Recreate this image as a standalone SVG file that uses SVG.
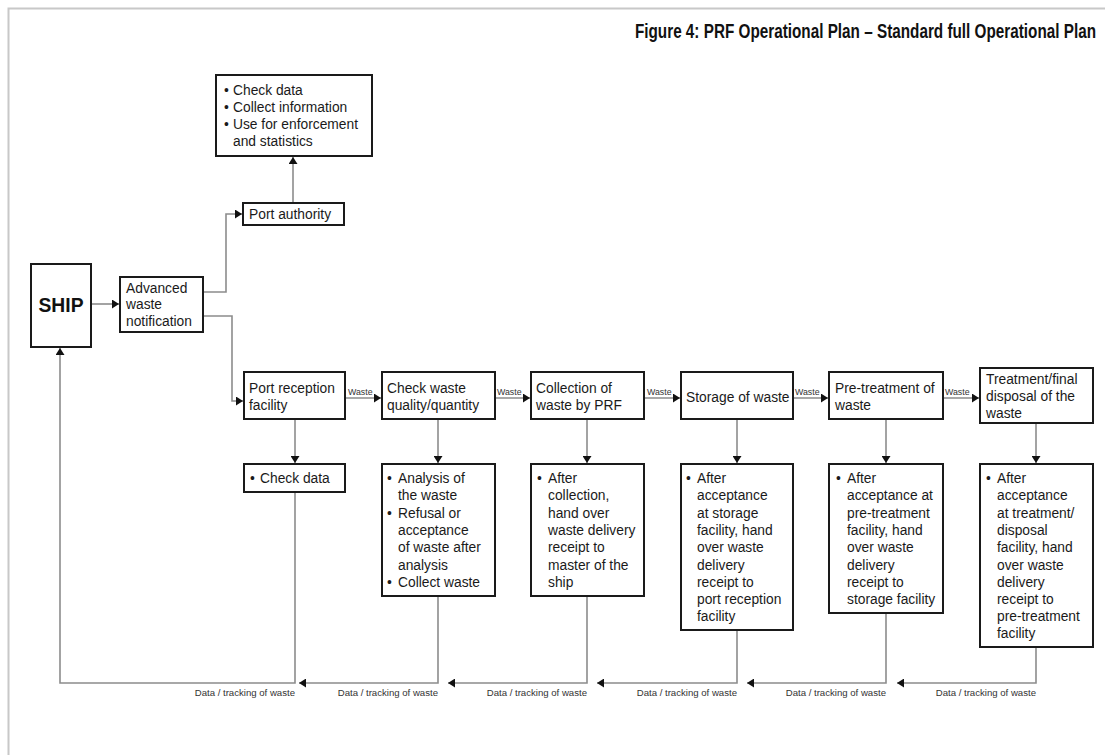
<svg xmlns="http://www.w3.org/2000/svg" width="1105" height="755" viewBox="0 0 1105 755">
  <style>
    .box { fill: #ffffff; stroke: #1a1a1a; stroke-width: 2; }
    .conn { fill: none; stroke: #8c8c8c; stroke-width: 1.6; }
    .t { font-family: "Liberation Sans", Arial, sans-serif; font-size: 13.8px; fill: #1a1a1a; }
    .lbl { font-family: "Liberation Sans", Arial, sans-serif; font-size: 8.8px; fill: #333333; }
    .data { font-family: "Liberation Sans", Arial, sans-serif; font-size: 9.6px; fill: #333333; text-anchor: end; }
    .title { font-family: "Liberation Sans", Arial, sans-serif; font-size: 21px; font-weight: bold; fill: #111111; }
    .ship { font-family: "Liberation Sans", Arial, sans-serif; font-size: 21px; font-weight: bold; fill: #111111; }
  </style>
  <defs>
    <marker id="ah" markerWidth="9" markerHeight="9" refX="7" refY="4.5" orient="auto" markerUnits="userSpaceOnUse">
      <path d="M0,0 L7,4.5 L0,9 Z" fill="#111111"/>
    </marker>
  </defs>

  <rect width="1105" height="755" fill="#ffffff"/>
  <!-- page frame -->
  <path d="M8.5,755 V8.5 H1105" fill="none" stroke="#c8c8c8" stroke-width="2"/>

  <!-- condensed heading -->
  <g transform="translate(1096,38) scale(0.728,1)">
    <text class="title" x="0" y="0" text-anchor="end">Figure 4: PRF Operational Plan – Standard full Operational Plan</text>
  </g>

  <!-- connectors -->
  <g id="connectors">
    <path class="conn" d="M91,304 H119" marker-end="url(#ah)"/>
    <path class="conn" d="M203,292 H226 V214 H242" marker-end="url(#ah)"/>
    <path class="conn" d="M203,316 H232 V401 H243" marker-end="url(#ah)"/>
    <path class="conn" d="M293,203 V157" marker-end="url(#ah)"/>
    <path class="conn" d="M345,398 H381" marker-end="url(#ah)"/>
    <path class="conn" d="M495,398 H530" marker-end="url(#ah)"/>
    <path class="conn" d="M644,398 H680" marker-end="url(#ah)"/>
    <path class="conn" d="M793,398 H828" marker-end="url(#ah)"/>
    <path class="conn" d="M943,398 H979" marker-end="url(#ah)"/>
    <path class="conn" d="M295,419 V463" marker-end="url(#ah)"/>
    <path class="conn" d="M438,419 V463" marker-end="url(#ah)"/>
    <path class="conn" d="M587,419 V463" marker-end="url(#ah)"/>
    <path class="conn" d="M737,419 V463" marker-end="url(#ah)"/>
    <path class="conn" d="M886,419 V463" marker-end="url(#ah)"/>
    <path class="conn" d="M1036,423 V463" marker-end="url(#ah)"/>
    <path class="conn" d="M1036,647 V683 H897" marker-end="url(#ah)"/>
    <path class="conn" d="M886,613 V683 H747" marker-end="url(#ah)"/>
    <path class="conn" d="M737,630 V683 H597" marker-end="url(#ah)"/>
    <path class="conn" d="M587,596 V683 H448" marker-end="url(#ah)"/>
    <path class="conn" d="M438,596 V683 H299" marker-end="url(#ah)"/>
    <path class="conn" d="M295,492 V683 H60 V348" marker-end="url(#ah)"/>

    <text class="lbl" x="348" y="394.5">Waste</text>
    <text class="lbl" x="497" y="394.5">Waste</text>
    <text class="lbl" x="647" y="394.5">Waste</text>
    <text class="lbl" x="795" y="394.5">Waste</text>
    <text class="lbl" x="945" y="394.5">Waste</text>

    <text class="data" x="295" y="696">Data / tracking of waste</text>
    <text class="data" x="438" y="696">Data / tracking of waste</text>
    <text class="data" x="587" y="696">Data / tracking of waste</text>
    <text class="data" x="737" y="696">Data / tracking of waste</text>
    <text class="data" x="886" y="696">Data / tracking of waste</text>
    <text class="data" x="1036" y="696">Data / tracking of waste</text>
  </g>

  <g id="ship">
    <rect class="box" x="31" y="264" width="60" height="83"/>
    <text class="ship" x="61" y="312" text-anchor="middle" textLength="45" lengthAdjust="spacingAndGlyphs">SHIP</text>
  </g>

  <g id="advanced-notification">
    <rect class="box" x="120" y="277" width="83" height="55"/>
    <text class="t" x="126" y="293">Advanced</text>
    <text class="t" x="126" y="309">waste</text>
    <text class="t" x="126" y="326">notification</text>
  </g>

  <g id="authority-tasks">
    <rect class="box" x="216" y="75" width="156" height="81"/>
    <text class="t" x="224" y="95">•</text><text class="t" x="233" y="95">Check data</text>
    <text class="t" x="224" y="112">•</text><text class="t" x="233" y="112">Collect information</text>
    <text class="t" x="224" y="129">•</text><text class="t" x="233" y="129">Use for enforcement</text>
    <text class="t" x="233" y="146">and statistics</text>
  </g>

  <g id="port-authority">
    <rect class="box" x="243" y="203" width="101" height="22"/>
    <text class="t" x="249" y="219">Port authority</text>
  </g>

  <g id="port-reception">
    <rect class="box" x="244" y="372" width="101" height="47"/>
    <text class="t" x="249" y="393">Port reception</text>
    <text class="t" x="249" y="410">facility</text>
  </g>

  <g id="check-quality">
    <rect class="box" x="382" y="372" width="113" height="47"/>
    <text class="t" x="387" y="393">Check waste</text>
    <text class="t" x="387" y="410">quality/quantity</text>
  </g>

  <g id="collection">
    <rect class="box" x="531" y="372" width="113" height="47"/>
    <text class="t" x="536" y="393">Collection of</text>
    <text class="t" x="536" y="410">waste by PRF</text>
  </g>

  <g id="storage">
    <rect class="box" x="681" y="372" width="112" height="47"/>
    <text class="t" x="686" y="401.5">Storage of waste</text>
  </g>

  <g id="pre-treatment">
    <rect class="box" x="829" y="372" width="114" height="47"/>
    <text class="t" x="835" y="393">Pre-treatment of</text>
    <text class="t" x="835" y="410">waste</text>
  </g>

  <g id="treatment">
    <rect class="box" x="980" y="368" width="113" height="55"/>
    <text class="t" x="986" y="384">Treatment/final</text>
    <text class="t" x="986" y="401">disposal of the</text>
    <text class="t" x="986" y="418">waste</text>
  </g>

  <g id="reception-check">
    <rect class="box" x="244" y="464" width="101" height="28"/>
    <text class="t" x="250" y="483">•</text><text class="t" x="260" y="483">Check data</text>
  </g>

  <g id="analysis">
    <rect class="box" x="382" y="464" width="113" height="132"/>
    <text class="t" x="387" y="483">•</text><text class="t" x="398" y="483">Analysis of</text>
    <text class="t" x="398" y="500">the waste</text>
    <text class="t" x="387" y="518">•</text><text class="t" x="398" y="518">Refusal or</text>
    <text class="t" x="398" y="535">acceptance</text>
    <text class="t" x="398" y="552">of waste after</text>
    <text class="t" x="398" y="569.5">analysis</text>
    <text class="t" x="387" y="586.5">•</text><text class="t" x="398" y="586.5">Collect waste</text>
  </g>

  <g id="collection-receipt">
    <rect class="box" x="531" y="464" width="113" height="132"/>
    <text class="t" x="537" y="483">•</text><text class="t" x="548" y="483">After</text>
    <text class="t" x="548" y="500">collection,</text>
    <text class="t" x="548" y="518">hand over</text>
    <text class="t" x="548" y="535">waste delivery</text>
    <text class="t" x="548" y="552">receipt to</text>
    <text class="t" x="548" y="569.5">master of the</text>
    <text class="t" x="548" y="586.5">ship</text>
  </g>

  <g id="storage-receipt">
    <rect class="box" x="681" y="464" width="112" height="166"/>
    <text class="t" x="686" y="483">•</text><text class="t" x="697" y="483">After</text>
    <text class="t" x="697" y="500">acceptance</text>
    <text class="t" x="697" y="518">at storage</text>
    <text class="t" x="697" y="535">facility, hand</text>
    <text class="t" x="697" y="552">over waste</text>
    <text class="t" x="697" y="569.5">delivery</text>
    <text class="t" x="697" y="586.5">receipt to</text>
    <text class="t" x="697" y="604">port reception</text>
    <text class="t" x="697" y="621">facility</text>
  </g>

  <g id="pre-treatment-receipt">
    <rect class="box" x="829" y="464" width="114" height="149"/>
    <text class="t" x="836" y="483">•</text><text class="t" x="847" y="483">After</text>
    <text class="t" x="847" y="500">acceptance at</text>
    <text class="t" x="847" y="518">pre-treatment</text>
    <text class="t" x="847" y="535">facility, hand</text>
    <text class="t" x="847" y="552">over waste</text>
    <text class="t" x="847" y="569.5">delivery</text>
    <text class="t" x="847" y="586.5">receipt to</text>
    <text class="t" x="847" y="604">storage facility</text>
  </g>

  <g id="treatment-receipt">
    <rect class="box" x="980" y="464" width="113" height="183"/>
    <text class="t" x="986" y="483">•</text><text class="t" x="997" y="483">After</text>
    <text class="t" x="997" y="500">acceptance</text>
    <text class="t" x="997" y="518">at treatment/</text>
    <text class="t" x="997" y="535">disposal</text>
    <text class="t" x="997" y="552">facility, hand</text>
    <text class="t" x="997" y="569.5">over waste</text>
    <text class="t" x="997" y="586.5">delivery</text>
    <text class="t" x="997" y="604">receipt to</text>
    <text class="t" x="997" y="621">pre-treatment</text>
    <text class="t" x="997" y="638">facility</text>
  </g>
</svg>
